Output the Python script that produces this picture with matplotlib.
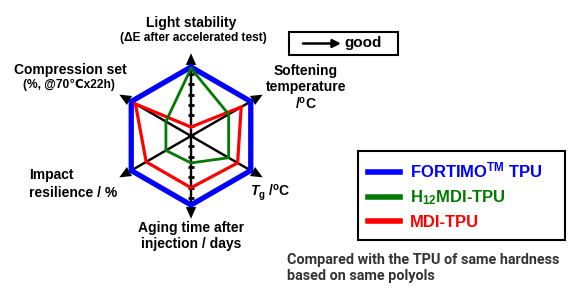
import numpy as np
import matplotlib
matplotlib.use('Agg')
import matplotlib.pyplot as plt
from matplotlib.lines import Line2D
from matplotlib.patches import Rectangle, FancyArrow

plt.rcParams['font.family'] = ['Liberation Sans', 'DejaVu Sans']
plt.rcParams['font.weight'] = 'bold'
plt.rcParams['mathtext.fontset'] = 'custom'
plt.rcParams['mathtext.rm'] = 'Liberation Sans:bold'
plt.rcParams['mathtext.bf'] = 'Liberation Sans:bold'
plt.rcParams['mathtext.it'] = 'Liberation Sans:bold:italic'

W, H = 580, 305

# radar axes, clockwise from the top
categories = ['Light stability', 'Softening temperature', 'Tg',
              'Aging time', 'Impact resilience', 'Compression set']
angles = np.deg2rad([90, 30, -30, -90, -150, 150])

series = ['FORTIMO$^{\\mathbf{TM}}$ TPU', 'H$_{12}$MDI-TPU', 'MDI-TPU']
fortimo = [1.0, 1.0, 1.0, 1.0, 1.0, 1.0]
h12mdi = [0.98, 0.63, 0.63, 0.39, 0.42, 0.42]
mdi = [0.13, 0.84, 0.78, 0.75, 0.75, 0.93]
colors = ['#0000ff', '#007a00', '#ff0000']
widths = [3.8, 2.0, 2.3]

fig = plt.figure(figsize=(W / 100, H / 100), dpi=100)

# overlay in pixel coordinates for boxes and labels
ov = fig.add_axes([0, 0, 1, 1])
ov.set_xlim(0, W)
ov.set_ylim(H, 0)
ov.axis('off')

# radar in unit coordinates (1 unit = 69 px)
cx, cy, unit, span = 191, 136, 69, 1.3
rad = fig.add_axes([(cx - span * unit) / W, (H - cy - span * unit) / H,
                    2 * span * unit / W, 2 * span * unit / H])
rad.set_xlim(-span, span)
rad.set_ylim(-span, span)
rad.axis('off')

tip = 1.2
for a in angles:
    rad.add_patch(FancyArrow(0, 0, tip * np.cos(a), tip * np.sin(a), width=0.035,
                             head_width=0.15, head_length=0.17,
                             length_includes_head=True, color='black', lw=0, zorder=1))
ticks = np.arange(-0.9, 0.95, 0.15)
rad.plot(np.zeros_like(ticks), ticks, ls='none', marker='_', ms=4, mew=2,
         color='black', zorder=1)

order = [0, 2, 1]
all_vals = [fortimo, h12mdi, mdi]
for i in order:
    v = np.array(all_vals[i] + all_vals[i][:1])
    a = np.concatenate([angles, angles[:1]])
    rad.plot(v * np.cos(a), v * np.sin(a), color=colors[i], lw=widths[i], zorder=3,
             solid_joinstyle='miter')

handles = [Line2D([], [], color=c, lw=4) for c in colors]
leg = fig.legend(handles, series, loc='upper left', mode='expand',
                 bbox_to_anchor=(358 / W, 1 - 238 / H, 207 / W, 87 / H),
                 labelcolor='linecolor',
                 prop={'size': 12, 'weight': 'bold'}, frameon=True, fancybox=False,
                 edgecolor='black', framealpha=1, borderpad=0.6, handlelength=1.9,
                 handletextpad=0.6, labelspacing=0.45, borderaxespad=0)
leg.get_frame().set_linewidth(1.5)

# "good" box
ov.add_patch(Rectangle((289, 32), 109, 23, fill=False, lw=1.5, ec='black'))
ov.annotate('', xy=(341, 43.5), xytext=(303, 43.5),
            arrowprops=dict(arrowstyle='-|>', color='black', lw=1.8,
                            mutation_scale=12, shrinkA=0, shrinkB=0))
ov.text(344, 43.5, 'good', fontsize=11, va='center', ha='left')

# axis labels
ov.text(191, 23, 'Light stability', fontsize=10, ha='center', va='center')
ov.text(193, 38, '(\u0394E after accelerated test)', fontsize=8.6, ha='center', va='center')
ov.text(70, 70, 'Compression set', fontsize=10, ha='center', va='center')
ov.text(69, 85, '(%, @70\u2103x22h)', fontsize=8.6, ha='center', va='center')
ov.text(306, 88, 'Softening\ntemperature\n/$^{\\mathrm{o}}$C', fontsize=10,
        ha='center', va='center', linespacing=1.15)
ov.text(29, 184, 'Impact\nresilience / %', fontsize=10, ha='left', va='center',
        linespacing=1.3)
ov.text(250, 193, '$T_{\\mathrm{g}}$ /$^{\\mathrm{o}}$C', fontsize=10, ha='left', va='center')
ov.text(191, 236, 'Aging time after\ninjection / days', fontsize=10, ha='center',
        va='center', linespacing=1.15)

ov.text(287, 268, 'Compared with the TPU of same hardness\nbased on same polyols',
        fontsize=10.4, family='Roboto', color='#333333', ha='left', va='center',
        linespacing=1.2)

fig.savefig('out.png', dpi=100)
